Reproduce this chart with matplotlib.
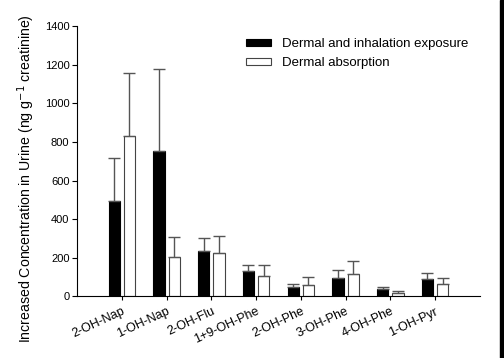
import matplotlib.pyplot as plt
import matplotlib.patches as mpatches
import numpy as np

plt.rcParams['font.family'] = ['Liberation Sans', 'DejaVu Sans']

# Data
compounds = ['2-OH-Nap', '1-OH-Nap', '2-OH-Flu', '1+9-OH-Phe', '2-OH-Phe', '3-OH-Phe', '4-OH-Phe', '1-OH-Pyr']
dermal_inhal = [494, 752, 235, 131, 50, 93, 36, 88]
dermal_inhal_err = [221, 426, 69, 33, 12, 43, 14, 33]
dermal_abs = [833, 202, 223, 105, 60, 114, 17, 62]
dermal_abs_err = [326, 107, 90, 59, 42, 67, 9, 31]

x = np.arange(1, len(compounds) + 1)
w = 0.25

fig = plt.figure(figsize=(5.04, 3.58), dpi=100)
ax = fig.add_axes([0.153, 0.172, 0.799, 0.755])

ax.bar(x - 0.17, dermal_inhal, w, color='black', edgecolor='black', linewidth=0.8,
       yerr=[np.zeros(len(x)), dermal_inhal_err], error_kw=dict(ecolor='#555555', elinewidth=1, capsize=4, capthick=1),
       label='Dermal and inhalation exposure')
ax.bar(x + 0.17, dermal_abs, w, color='white', edgecolor='#444444', linewidth=0.8,
       yerr=[np.zeros(len(x)), dermal_abs_err], error_kw=dict(ecolor='#555555', elinewidth=1, capsize=4, capthick=1),
       label='Dermal absorption')

ax.set_xlim(0, 9)
ax.set_ylim(0, 1400)
ax.set_yticks(range(0, 1401, 200))
ax.set_xticks(x)
ax.set_xticklabels(compounds, rotation=25, ha='right', rotation_mode='anchor', fontsize=9)
ax.tick_params(axis='y', labelsize=8, direction='out', length=3.5, pad=2)
ax.tick_params(axis='x', direction='out', length=3)
ax.spines['top'].set_visible(False)
ax.spines['right'].set_visible(False)
ax.set_ylabel('Increased Concentration in Urine (ng g$^{-1}$ creatinine)', fontsize=10.2)
ax.yaxis.set_label_coords(-0.1, 0.435)

ax.legend(loc='upper left', bbox_to_anchor=(0.39, 1.0), frameon=False, fontsize=9.5,
          handlelength=1.9, handleheight=0.5, handletextpad=0.85, labelspacing=0.55)

# dark strip on the right edge of the original image
fig.patches.append(mpatches.Rectangle((0.993, 0), 0.007, 1, transform=fig.transFigure,
                                      color='black', zorder=0))

fig.savefig('out.png', dpi=100)
